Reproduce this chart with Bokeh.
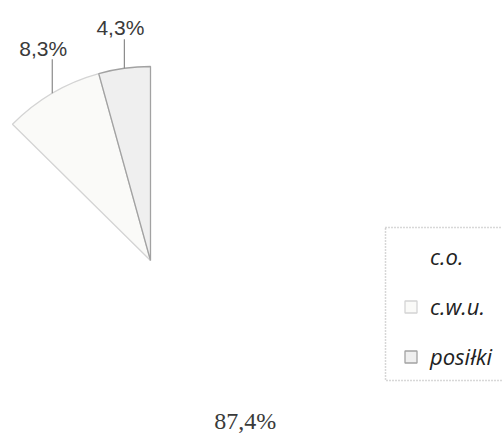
import math
from bokeh.plotting import figure
from bokeh.models import ColumnDataSource, Range1d, Legend, LegendItem
from bokeh.embed import file_html
from bokeh.resources import INLINE

# ---- data ----
categories = ["c.o.", "c.w.u.", "posiłki"]
shares = [87.4, 8.3, 4.3]
labels = ["87,4%", "8,3%", "4,3%"]

# ---- styles / layout ----
fills = ["#ffffff", "#fafaf8", "#efefef"]
outlines = ["#ffffff", "#d4d4d4", "#a2a2a2"]
R = 194
lead_len = [0, 34, 29]
lab_dx = [20, -9, -4]
lab_dy = [18, 45, 41]
lab_fonts = ["Liberation Serif", "Liberation Sans", "Liberation Sans"]
lab_sizes = ["24px", "21px", "21px"]

total = sum(shares)
starts, ends, mids = [], [], []
cum = 0.0
for s in shares:
    a0 = math.pi / 2 - 2 * math.pi * cum / total
    cum += s
    a1 = math.pi / 2 - 2 * math.pi * cum / total
    starts.append(a0)
    ends.append(a1)
    mids.append((a0 + a1) / 2)

p = figure(width=502, height=437, output_backend="svg", toolbar_location=None,
           x_range=Range1d(-150, 352), y_range=Range1d(-177, 260),
           min_border=0, outline_line_color=None, background_fill_color="white")
p.axis.visible = False
p.grid.visible = False

renderers = []
for i in range(len(categories)):
    src = ColumnDataSource(dict(x=[0], y=[0], a0=[starts[i]], a1=[ends[i]]))
    r = p.wedge(x="x", y="y", radius=R, start_angle="a0", end_angle="a1",
                direction="clock", source=src, fill_color=fills[i],
                line_color=outlines[i], line_width=1.3)
    renderers.append(r)

# leader lines and labels
ax = [R * math.cos(m) for m in mids]
ay = [R * math.sin(m) for m in mids]
lx0, ly0, lx1, ly1 = [], [], [], []
for i in range(len(categories)):
    if lead_len[i] > 0:
        lx0.append(ax[i]); ly0.append(ay[i])
        lx1.append(ax[i]); ly1.append(ay[i] + lead_len[i])
p.segment(x0=lx0, y0=ly0, x1=lx1, y1=ly1, line_color="#8a8a8a", line_width=1.2)

tsrc = ColumnDataSource(dict(
    x=[ax[i] + lab_dx[i] for i in range(len(categories))],
    y=[ay[i] + lab_dy[i] for i in range(len(categories))],
    t=labels, f=lab_fonts, s=lab_sizes))
p.text(x="x", y="y", text="t", text_font="f", text_font_size="s",
       text_align="center", text_baseline="middle", text_color="#3a3a3a",
       source=tsrc)

# legend frame (decoration, dotted border running off the right edge)
p.quad(left=[235], right=[362], top=[33], bottom=[-120], fill_color=None,
       line_color="#b0b0b0", line_dash="1 2", line_width=1.5)

legend = Legend(items=[LegendItem(label=categories[i], renderers=[renderers[i]])
                       for i in range(len(categories))],
                location=(403, 66), orientation="vertical",
                padding=11, spacing=20, margin=0,
                glyph_width=15, glyph_height=15, label_height=22, label_standoff=12,
                label_text_font="Open Sans", label_text_font_style="italic",
                label_text_font_size="22px", label_text_color="#222222",
                border_line_color=None, background_fill_alpha=0.0)
p.add_layout(legend, "center")

open("out.html", "w").write(file_html(p, INLINE))
